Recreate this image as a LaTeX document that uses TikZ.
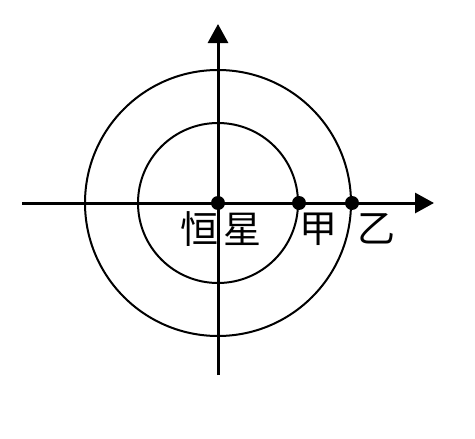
\documentclass[tikz,border=0pt]{standalone}
\usepackage{fontspec}
\newfontfamily\cjk{Noto Sans CJK SC}
\usetikzlibrary{arrows.meta}
\begin{document}
\begin{tikzpicture}[x=1pt,y=-1pt,
  axis/.style={line width=3pt,-{Triangle[length=19pt,width=20pt]}},
  orbit/.style={line width=2pt},
  dot/.style={circle,fill=black,inner sep=0pt,minimum size=14pt},
  lbl/.style={font=\cjk\fontsize{38}{38}\selectfont,inner sep=0pt}]
\useasboundingbox (0,0) rectangle (475,439);
\coordinate (O) at (218,203);
\draw[orbit] (O) circle[radius=133];
\draw[orbit] (O) circle[radius=80];
\coordinate (xl) at (22,203);
\coordinate (xr) at (434,203);
\coordinate (yb) at (218,375);
\coordinate (yt) at (218,24);
\draw[axis] (xl) -- (xr);
\draw[axis] (yb) -- (yt);
\node[dot] (star) at (O) {};
\node[dot] (jia) at (299,203) {};
\node[dot] (yi) at (352,203) {};
\node[lbl] (starlbl) at (221,229) {恒\hspace{5pt}星};
\node[lbl] (jialbl) at (318,229) {甲};
\node[lbl] (yilbl) at (376,229) {乙};
\end{tikzpicture}
\end{document}
